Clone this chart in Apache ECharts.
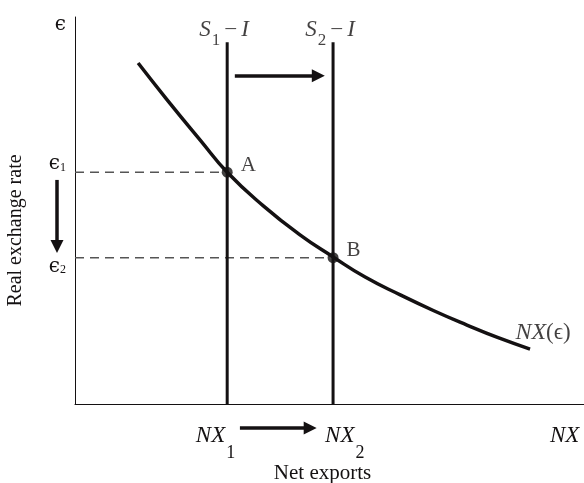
<!DOCTYPE html>
<html>
<head>
<meta charset="utf-8">
<script src="https://cdn.jsdelivr.net/npm/echarts@6/dist/echarts.min.js"></script>
<style>html,body{margin:0;padding:0;background:#fff}#c{width:584px;height:483px}</style>
</head>
<body>
<div id="c"></div>
<script>
// ---- data (axis units: x 0..10, y 0..10) ----
const nxCurveX = [1.24, 1.81, 2.46, 2.99, 3.70, 4.42, 5.07, 5.70, 6.39, 7.05, 7.70, 8.30, 8.94];
const nxCurveY = [8.81, 7.86, 6.82, 5.99, 5.12, 4.37, 3.80, 3.28, 2.82, 2.41, 2.04, 1.72, 1.42];
const s1 = 2.99;           // S1 - I
const s2 = 5.07;           // S2 - I
const lineTop = 9.35;
const eps1 = 5.99;
const eps2 = 3.78;
const pointNames = ['A', 'B'];
const pointX = [s1, s2];
const pointY = [eps1, eps2];
// annotation arrows [x1, y1, x2, y2] (end = centre of the arrow head)
const shiftArrowTop = [3.14, 8.48, 4.78, 8.48];
const shiftArrowLeft = [-0.354, 5.79, -0.354, 4.07];
const shiftArrowBottom = [3.24, -0.62, 4.62, -0.62];
// tick labels
const yTickValues = [9.8, 6.2, 3.55];
const yTickLabels = ['{e|ϵ}', '{e|ϵ}{s|1}', '{e|ϵ}{s|2}'];
const xTickValues = [2.76, 5.30, 9.67];
const xTickLabels = ['{n|NX}{s|1}', '{n|NX}{s|2}', '{n|NX}{z| }'];

const INK = '#141112';
const SERIF = '"Liberation Serif", "DejaVu Serif", serif';

const chart = echarts.init(document.getElementById('c'));
const curve = nxCurveX.map((x, i) => [x, nxCurveY[i]]);

chart.setOption({
  animation: false,
  backgroundColor: '#fff',
  grid: { left: 75, right: 0, top: 17, bottom: 79, outerBoundsMode: 'none', containLabel: false },
  xAxis: {
    type: 'value', min: 0, max: 10,
    axisLine: { show: true, onZero: false, lineStyle: { color: INK, width: 1 } },
    axisTick: { show: false },
    splitLine: { show: false },
    axisLabel: {
      customValues: xTickValues,
      formatter: v => xTickLabels[xTickValues.indexOf(v)],
      margin: 20,
      rich: {
        n: { fontFamily: SERIF, fontStyle: 'italic', fontSize: 23, color: INK, lineHeight: 24, verticalAlign: 'top' },
        s: { fontFamily: SERIF, fontSize: 18, color: INK, lineHeight: 18, padding: [20, 0, 0, 1], verticalAlign: 'top' },
        z: { fontSize: 18, lineHeight: 18, padding: [20, 0, 0, 0], verticalAlign: 'top' }
      }
    },
    name: 'Net exports', nameLocation: 'middle', nameGap: 59, nameMoveOverlap: false,
    nameTextStyle: { fontFamily: SERIF, fontSize: 21, color: INK, verticalAlign: 'top', padding: [0, 14, 0, 0] }
  },
  yAxis: {
    type: 'value', min: 0, max: 10,
    axisLine: { show: true, onZero: false, lineStyle: { color: INK, width: 1 } },
    axisTick: { show: false },
    splitLine: { show: false },
    axisLabel: {
      customValues: yTickValues,
      formatter: v => yTickLabels[yTickValues.indexOf(v)],
      margin: 9,
      rich: {
        e: { fontFamily: '"DejaVu Serif", serif', fontSize: 20, color: INK },
        s: { fontFamily: SERIF, fontSize: 12, color: INK, padding: [7, 0, 0, 0] }
      }
    },
    name: 'Real exchange rate', nameLocation: 'middle', nameGap: 49, nameMoveOverlap: false,
    nameTextStyle: { fontFamily: SERIF, fontSize: 20, color: INK, padding: [0, 40, 0, 0] }
  },
  series: [
    { type: 'line', data: [[0, eps1], [s1, eps1]], symbol: 'none', silent: true,
      lineStyle: { color: '#555', width: 1.5, type: [9, 6] } },
    { type: 'line', data: [[0, eps2], [s2, eps2]], symbol: 'none', silent: true,
      lineStyle: { color: '#555', width: 1.5, type: [9, 6] } },
    { type: 'line', data: [[s1, 0], [s1, lineTop]], symbol: 'none',
      lineStyle: { color: INK, width: 3 } },
    { type: 'line', data: [[s2, 0], [s2, lineTop]], symbol: 'none',
      lineStyle: { color: INK, width: 3 } },
    { type: 'line', data: curve, smooth: true, symbol: 'none',
      lineStyle: { color: INK, width: 3.5, cap: 'butt' } },
    // S - I labels at the top of the vertical lines
    { type: 'scatter', symbolSize: 0, silent: true,
      data: [[s1, lineTop], [s2, lineTop]],
      label: { show: true, position: 'top', distance: 2, offset: [-3, 0],
        formatter: p => p.dataIndex === 0 ? '{i|S}{s|1}{r| – }{i|I}' : '{i|S}{s|2}{r| – }{i|I}',
        rich: {
          i: { fontFamily: SERIF, fontStyle: 'italic', fontSize: 23, color: INK, lineHeight: 22, verticalAlign: 'top' },
          s: { fontFamily: SERIF, fontSize: 17, color: INK, lineHeight: 17, padding: [14, 0, 0, 1], verticalAlign: 'top' },
          r: { fontFamily: SERIF, fontSize: 21, color: INK, lineHeight: 22, verticalAlign: 'top' }
        } } },
    // points A, B
    { type: 'scatter', symbol: 'circle', symbolSize: 11,
      itemStyle: { color: INK },
      data: pointX.map((x, i) => ({ value: [x, pointY[i]], name: pointNames[i] })),
      label: { show: true, position: 'right', distance: 8, offset: [0, -7],
        formatter: '{b}', fontFamily: SERIF, fontSize: 21, color: INK } },
    // NX(eps) label at curve end
    { type: 'scatter', symbolSize: 0, silent: true,
      data: [curve[curve.length - 1]],
      label: { show: true, position: 'top', distance: 4, offset: [13, 0],
        formatter: '{i|NX}{r|(ϵ)}',
        rich: {
          i: { fontFamily: SERIF, fontStyle: 'italic', fontSize: 24, color: INK },
          r: { fontFamily: SERIF, fontSize: 23, color: INK }
        } } },
    // shift arrows
    { type: 'lines', coordinateSystem: 'cartesian2d', clip: false, silent: true,
      symbol: ['none', 'triangle'], symbolSize: [15, 13],
      lineStyle: { color: INK, width: 3.5, opacity: 1 },
      data: [shiftArrowTop, shiftArrowLeft, shiftArrowBottom].map(a => ({ coords: [[a[0], a[1]], [a[2], a[3]]] })) }
  ]
});
</script>
</body>
</html>
